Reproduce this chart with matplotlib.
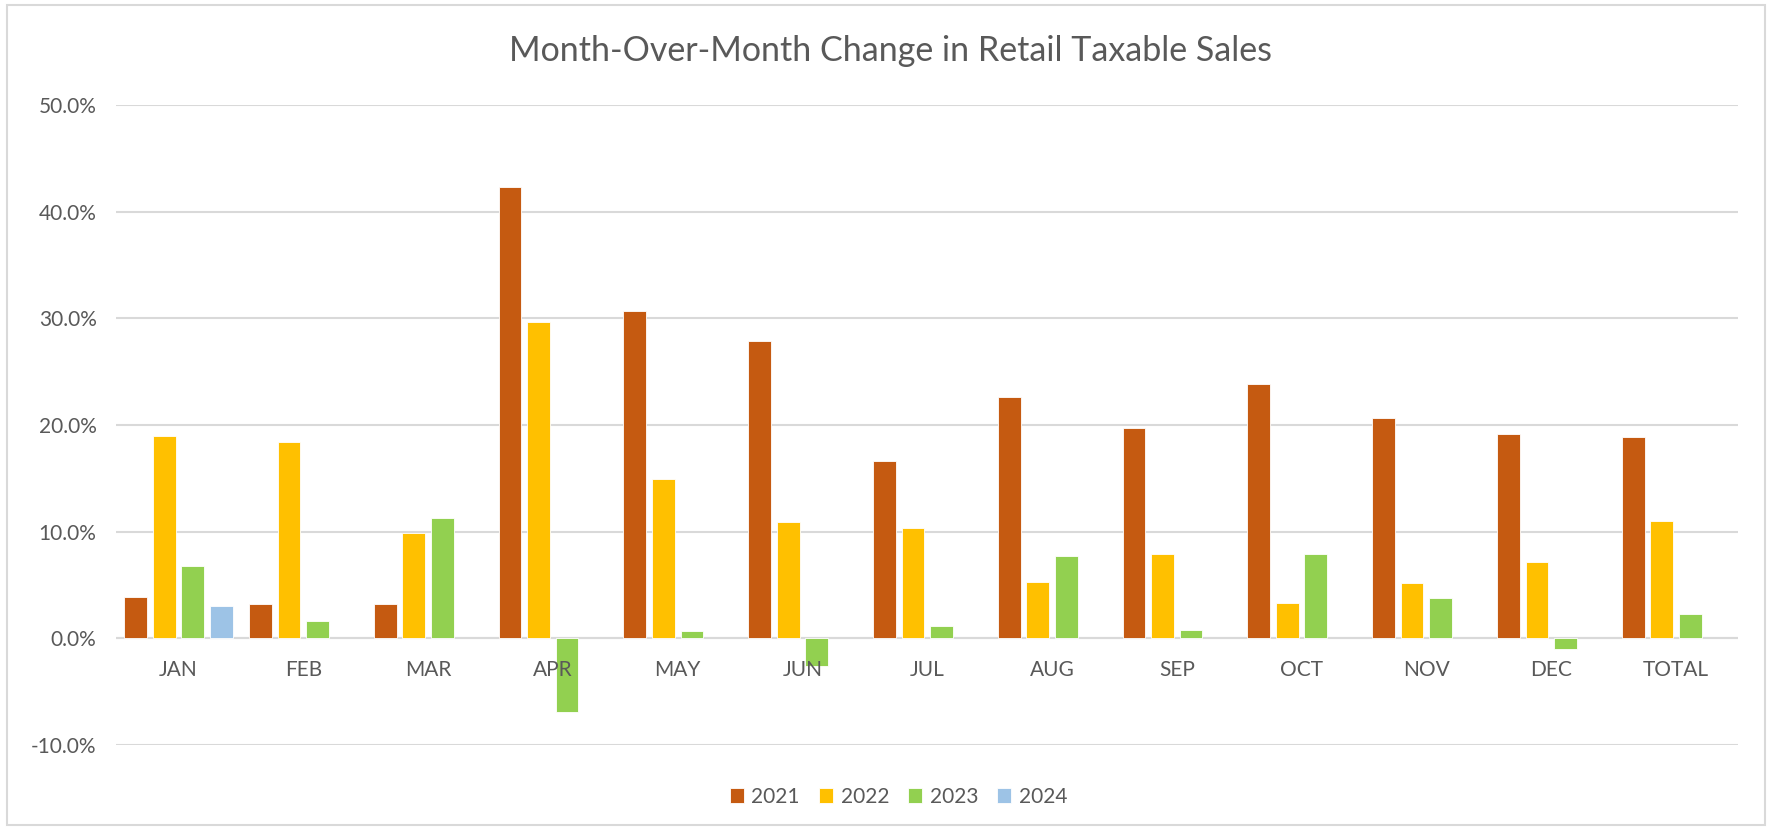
import matplotlib
matplotlib.use("Agg")
import matplotlib.pyplot as plt
from matplotlib.patches import Rectangle
import numpy as np

categories = ["JAN", "FEB", "MAR", "APR", "MAY", "JUN", "JUL", "AUG", "SEP", "OCT", "NOV", "DEC", "TOTAL"]
series_names = ["2021", "2022", "2023", "2024"]
s2021 = [3.9, 3.2, 3.2, 42.3, 30.7, 27.9, 16.6, 22.6, 19.7, 23.8, 20.7, 19.2, 18.9]
s2022 = [19.0, 18.4, 9.9, 29.7, 14.9, 10.9, 10.3, 5.3, 7.9, 3.3, 5.2, 7.2, 11.0]
s2023 = [6.8, 1.6, 11.3, -6.9, 0.7, -2.6, 1.2, 7.7, 0.8, 7.9, 3.8, -1.0, 2.3]
s2024 = [3.0, None, None, None, None, None, None, None, None, None, None, None, None]
colors = ["#C55A11", "#FFC000", "#92D050", "#9DC3E6"]

plt.rcParams['font.family'] = ['Lato', 'DejaVu Sans']
txt = "#595959"

fig = plt.figure(figsize=(17.72, 8.30), dpi=100)
ax = fig.add_axes([0.0655, 0.1024, 0.9155, 0.7711])

x = np.arange(len(categories))
step = 0.2286
width = 0.182
all_series = [s2021, s2022, s2023, s2024]
for i, (name, vals, c) in enumerate(zip(series_names, all_series, colors)):
    xs = [xi + (i - 1.5) * step for xi, v in zip(x, vals) if v is not None]
    vs = [v for v in vals if v is not None]
    ax.bar(xs, vs, width=width, color=c, label=name, zorder=3,
           edgecolor="white", linewidth=0.6)

ax.set_xlim(-0.5, len(categories) - 0.5)
ax.set_ylim(-10, 50)
ax.set_yticks(np.arange(-10, 51, 10))
ax.set_yticklabels([f"{t:.1f}%" for t in np.arange(-10, 51, 10)])
ax.yaxis.grid(True, color="#D9D9D9", linewidth=1.5, zorder=0)
ax.axhline(0, color="#D9D9D9", linewidth=1.5, zorder=1)
for s in ax.spines.values():
    s.set_visible(False)
ax.tick_params(axis="both", length=0, labelsize=15, colors=txt)
ax.tick_params(axis="y", pad=14)
ax.set_xticks(x)
ax.set_xticklabels(categories)
ax.tick_params(axis="x", labelbottom=False)
for xi, lab in zip(x, categories):
    ax.annotate(lab, xy=(xi, 0), xycoords="data", xytext=(0, -23),
                textcoords="offset points", ha="center", va="center",
                fontsize=15, color=txt)

fig.text(0.5025, 0.938, "Month-Over-Month Change in Retail Taxable Sales",
         ha="center", va="center", fontsize=24.5, color=txt)

leg = fig.legend(loc="center", bbox_to_anchor=(0.507, 0.040), ncol=4, frameon=False,
                 fontsize=15, handlelength=0.7, handleheight=0.7,
                 handletextpad=0.35, columnspacing=0.9)
for t in leg.get_texts():
    t.set_color(txt)

fig.patches.append(Rectangle((0.004, 0.006), 0.992, 0.988, transform=fig.transFigure,
                             fill=False, edgecolor="#D9D9D9", linewidth=1.5))

fig.savefig("out.png", dpi=100, facecolor="white")
